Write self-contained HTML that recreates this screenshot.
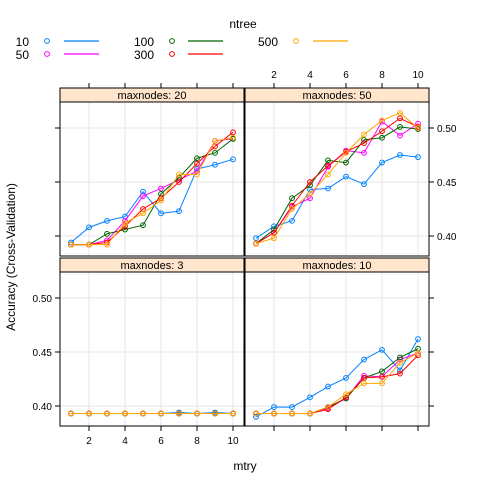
<!DOCTYPE html>
<html><head><meta charset="utf-8"><style>
body{margin:0;background:#fff}
svg{display:block;font-family:"Liberation Sans",Arial,sans-serif}
</style></head><body>
<svg id="chart" width="480" height="480" viewBox="0 0 480 480">
</svg>
<script>
const mtry=[1,2,3,4,5,6,7,8,9,10];
const seriesNames=["10","50","100","300","500"];
const colors=["#0080ff","#ff00ff","#006400","#ff0000","#ffa500"];
const xTicks=[2,4,6,8,10];
const yTicks=[0.40,0.45,0.50];
const yTickLabels=["0.40","0.45","0.50"];
// maxnodes 20
const p20_10=[0.394,0.408,0.414,0.418,0.441,0.421,0.423,0.462,0.466,0.471];
const p20_50=[0.392,0.392,0.396,0.414,0.437,0.444,0.452,0.460,0.488,0.490];
const p20_100=[0.392,0.392,0.402,0.406,0.410,0.439,0.454,0.472,0.477,0.490];
const p20_300=[0.392,0.392,0.394,0.409,0.425,0.435,0.450,0.467,0.483,0.496];
const p20_500=[0.392,0.392,0.392,0.412,0.421,0.433,0.457,0.457,0.488,0.491];
// maxnodes 50
const p50_10=[0.398,0.409,0.414,0.443,0.444,0.455,0.448,0.468,0.475,0.473];
const p50_50=[0.393,0.403,0.427,0.435,0.464,0.479,0.477,0.506,0.493,0.504];
const p50_100=[0.393,0.406,0.435,0.447,0.470,0.468,0.489,0.491,0.501,0.499];
const p50_300=[0.393,0.403,0.428,0.450,0.465,0.478,0.486,0.497,0.509,0.501];
const p50_500=[0.393,0.398,0.425,0.439,0.457,0.477,0.494,0.507,0.514,0.500];
// maxnodes 3
const p3_10=[0.393,0.393,0.393,0.393,0.393,0.393,0.394,0.393,0.394,0.393];
const p3_50=[0.393,0.393,0.393,0.393,0.393,0.393,0.393,0.393,0.393,0.393];
const p3_100=[0.393,0.393,0.393,0.393,0.393,0.393,0.393,0.393,0.393,0.393];
const p3_300=[0.393,0.393,0.393,0.393,0.393,0.393,0.393,0.393,0.393,0.393];
const p3_500=[0.393,0.393,0.393,0.393,0.393,0.393,0.393,0.393,0.393,0.393];
// maxnodes 10
const p10_10=[0.390,0.399,0.399,0.408,0.418,0.426,0.443,0.452,0.433,0.462];
const p10_50=[0.393,0.393,0.393,0.393,0.398,0.407,0.428,0.427,0.443,0.449];
const p10_100=[0.393,0.393,0.393,0.393,0.399,0.407,0.426,0.432,0.445,0.453];
const p10_300=[0.393,0.393,0.393,0.393,0.397,0.408,0.426,0.427,0.430,0.447];
const p10_500=[0.393,0.393,0.393,0.393,0.399,0.411,0.421,0.421,0.440,0.449];

const NS="http://www.w3.org/2000/svg";
const svg=document.getElementById("chart");
function mk(tag,attrs,parent){const e=document.createElementNS(NS,tag);for(const k in attrs)e.setAttribute(k,attrs[k]);(parent||svg).appendChild(e);return e;}
function txt(s,attrs,parent){const e=mk("text",attrs,parent);e.textContent=s;return e;}

const panels=[
 {title:"maxnodes: 20",x0:60,y0:88,data:[p20_10,p20_50,p20_100,p20_300,p20_500],name:"panel-maxnodes-20"},
 {title:"maxnodes: 50",x0:245,y0:88,data:[p50_10,p50_50,p50_100,p50_300,p50_500],name:"panel-maxnodes-50"},
 {title:"maxnodes:  3",x0:60,y0:258,data:[p3_10,p3_50,p3_100,p3_300,p3_500],name:"panel-maxnodes-3"},
 {title:"maxnodes: 10",x0:245,y0:258,data:[p10_10,p10_50,p10_100,p10_300,p10_500],name:"panel-maxnodes-10"}
];
const PW=184, SH=14, PH=154;
panels.forEach((p,pi)=>{
  const g=mk("g",{});
  
  
  const px=m=>p.x0+11+(m-1)*18;
  const py=v=>p.y0+SH+134-(v-0.40)*1080;
  xTicks.forEach(t=>{const l=mk("line",{x1:px(t),x2:px(t),y1:p.y0+SH,y2:p.y0+SH+PH,stroke:"#e6e6e6"},g);
    });
  yTicks.forEach(t=>{const l=mk("line",{x1:p.x0,x2:p.x0+PW,y1:py(t),y2:py(t),stroke:"#e6e6e6"},g);
    });
  const s=mk("rect",{x:p.x0,y:p.y0,width:PW,height:SH,fill:"#ffe5cc",stroke:"#000"},g);
  
  const st=txt(p.title,{x:p.x0+PW/2,y:p.y0+11,"text-anchor":"middle","font-size":"11",fill:"#000"},g);
  
  [0,1,2,3,4].forEach(si=>{
    const vals=p.data[si];
    const pts=mtry.map((m,i)=>px(m)+","+py(vals[i])).join(" ");
    const pl=mk("polyline",{points:pts,fill:"none",stroke:colors[si],"stroke-width":1},g);
    
    
    mtry.forEach((m,i)=>{
      const c=mk("circle",{cx:px(m),cy:py(vals[i]),r:2.4,fill:"none",stroke:colors[si],"stroke-width":1},g);
      
      
    });
  });
  const fr=mk("rect",{x:p.x0,y:p.y0+SH,width:PW,height:PH,fill:"none",stroke:"#000"},g);
  
  const top=pi<2, left=pi%2===0;
  xTicks.forEach(t=>{
    if(top){
      mk("line",{x1:px(t),x2:px(t),y1:p.y0,y2:p.y0-5,stroke:"#000"},g);
      if(!left){const l=txt(String(t),{x:px(t),y:p.y0-10,"text-anchor":"middle","font-size":"10"},g);
        }
    } else {
      mk("line",{x1:px(t),x2:px(t),y1:p.y0+SH+PH,y2:p.y0+SH+PH+5,stroke:"#000"},g);
      if(left){const l=txt(String(t),{x:px(t),y:p.y0+SH+PH+18,"text-anchor":"middle","font-size":"10"},g);
        }
    }
  });
  yTicks.forEach((t,i)=>{
    if(left){
      mk("line",{x1:p.x0,x2:p.x0-5,y1:py(t),y2:py(t),stroke:"#000"},g);
      if(!top){const l=txt(yTickLabels[i],{x:p.x0-8,y:py(t)+4,"text-anchor":"end","font-size":"10"},g);
        }
    } else {
      mk("line",{x1:p.x0+PW,x2:p.x0+PW+5,y1:py(t),y2:py(t),stroke:"#000"},g);
      if(top){const l=txt(yTickLabels[i],{x:p.x0+PW+8,y:py(t)+4,"font-size":"10"},g);
        }
    }
  });
});
const xt=txt("mtry",{x:245,y:470,"text-anchor":"middle","font-size":"12"});

const yt=txt("Accuracy (Cross-Validation)",{x:0,y:0,"text-anchor":"middle","font-size":"12",transform:"translate(15,257) rotate(-90)"});

const lt=txt("ntree",{x:243,y:28,"text-anchor":"middle","font-size":"12"});

const legPos=[[29,42,47,64],[29,55,47,64],[154,42,172,188],[154,55,172,188],[278,42,296,313]];
seriesNames.forEach((n,i)=>{
  const [tx,ty,cx,lx]=legPos[i];
  const g=mk("g",{});
  
  
  txt(n,{x:tx,y:ty+4,"text-anchor":"end","font-size":"12"},g);
  mk("circle",{cx:cx,cy:ty-1,r:2.4,fill:"none",stroke:colors[i]},g);
  mk("line",{x1:lx,x2:lx+35,y1:ty-1,y2:ty-1,stroke:colors[i],"stroke-width":1.3},g);
});
</script>
</body></html>
